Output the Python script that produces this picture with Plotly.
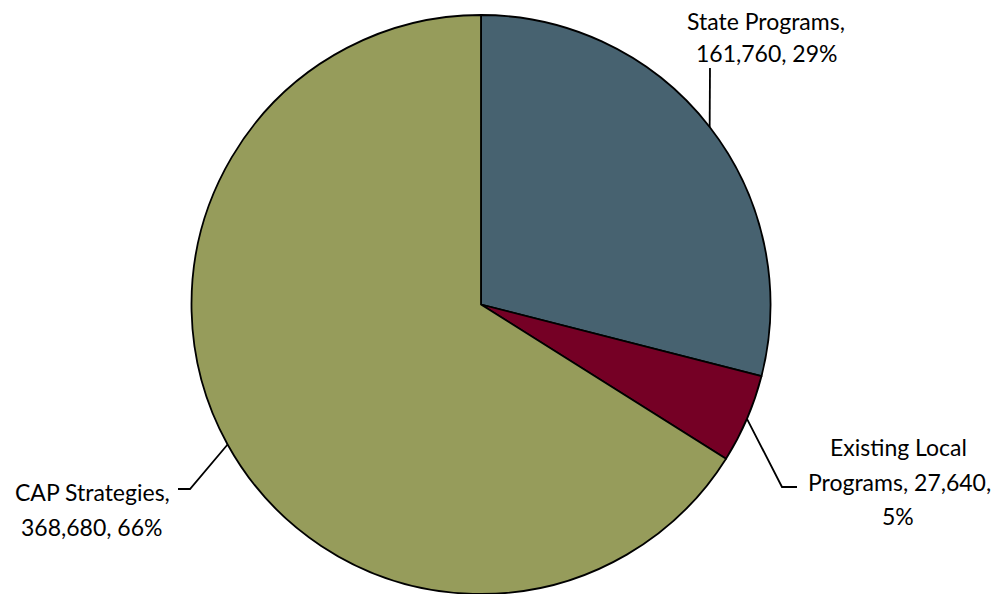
import math
import plotly.graph_objects as go

labels = ["State Programs", "Existing Local Programs", "CAP Strategies"]
values = [161760, 27640, 368680]
colors = ["#476270", "#750025", "#969C5B"]

W, H = 1002, 594
CX, CY, R = 481, 304.5, 289.5

# label text lines and their layout positions (pixels)
label_lines = [
    [("State Programs,", 766, 21), ("161,760, 29%", 766, 53)],
    [("Existing Local", 898, 447), ("Programs, 27,640,", 899, 482), ("5%", 898, 516)],
    [("CAP Strategies,", 92, 492), ("368,680, 66%", 91, 527)],
]
# leader elbow points after the slice-mid point (pixels)
leader_tail = [
    [(710, 68)],
    [(782, 487), (797, 487)],
    [(190, 489), (178, 489)],
]

def px(x):
    return x / W

def py(y):
    return 1 - y / H

fig = go.Figure(go.Pie(
    labels=labels, values=values, sort=False, direction="clockwise", rotation=0,
    marker=dict(colors=colors, line=dict(color="black", width=1.8)),
    textinfo="none", hoverinfo="label+value+percent", showlegend=False,
    domain=dict(x=[px(CX - R), px(CX + R)], y=[max(0, py(CY + R)), py(CY - R)]),
))

total = sum(values)
cum = 0
shapes = []
annotations = []
for i, v in enumerate(values):
    mid = (cum + v / 2) / total * 2 * math.pi
    cum += v
    sx = CX + R * math.sin(mid)
    sy = CY - R * math.cos(mid)
    pts = [(sx, sy)] + leader_tail[i]
    path = "M " + " L ".join(f"{px(x)},{py(y)}" for x, y in pts)
    shapes.append(dict(type="path", xref="paper", yref="paper", path=path,
                       line=dict(color="black", width=1.8)))
    for text, x, y in label_lines[i]:
        annotations.append(dict(text=text, x=px(x), y=py(y), xref="paper", yref="paper",
                                xanchor="center", yanchor="middle", showarrow=False,
                                font=dict(family="Lato", size=23, color="black")))

fig.update_layout(
    width=W, height=H, margin=dict(l=0, r=0, t=0, b=0),
    paper_bgcolor="white", plot_bgcolor="white",
    shapes=shapes, annotations=annotations,
)
fig.write_html("out.html", config={"displayModeBar": False},
               post_script="document.body.style.margin='0px';document.body.style.overflow='hidden';")
